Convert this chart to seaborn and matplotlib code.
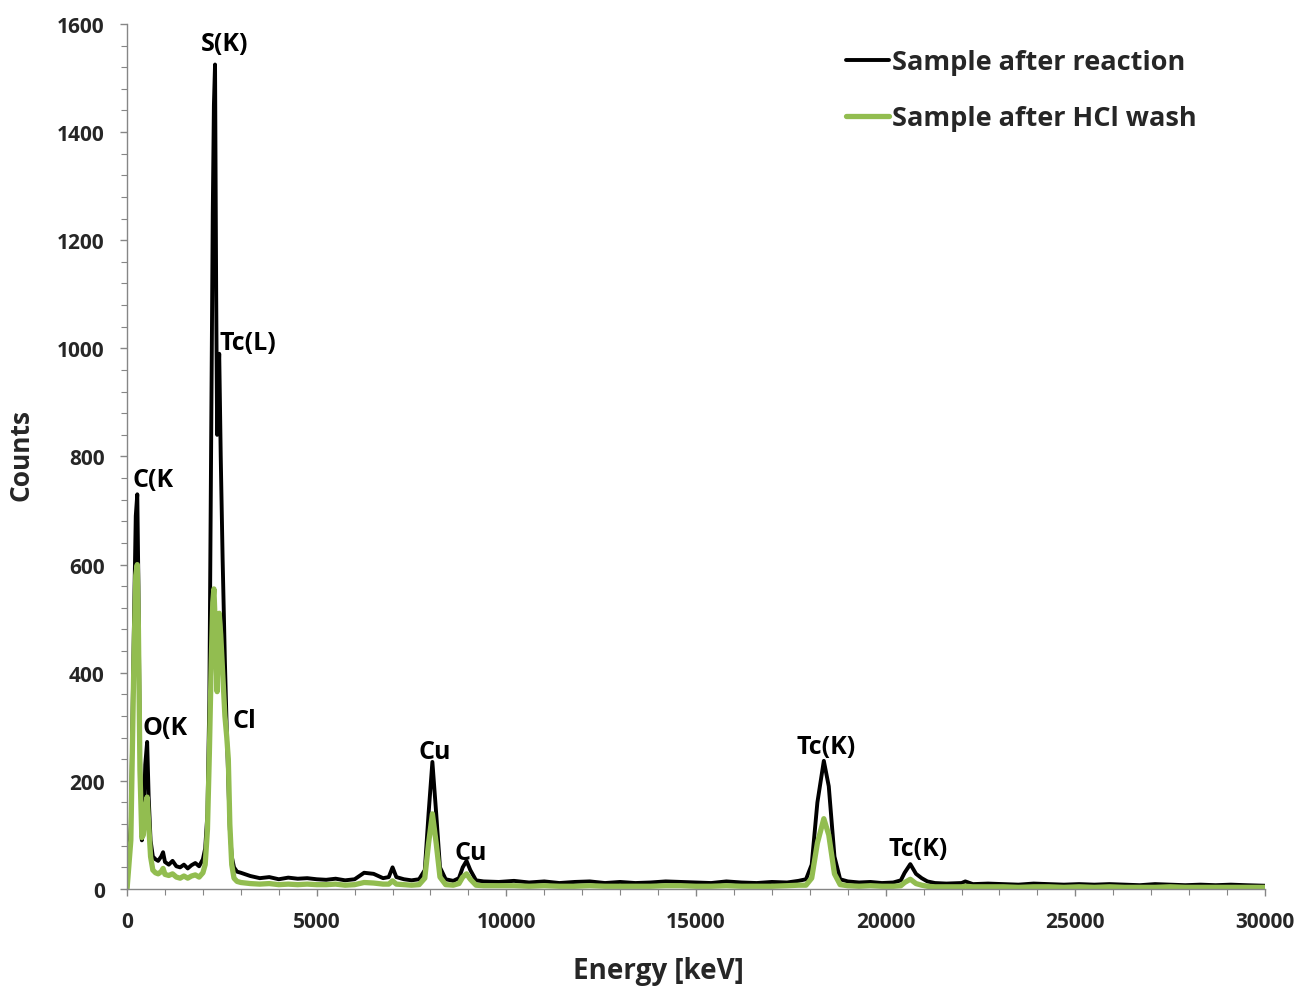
import pandas as pd
import matplotlib.pyplot as plt
import seaborn as sns
from matplotlib.ticker import MultipleLocator

# Energy grid (eV as labelled "keV" on the original chart)
energy = [
    0, 100, 180, 230, 270, 300, 340, 390, 430, 480, 530, 570, 620, 680, 750,
    820, 900, 950, 1000, 1100, 1200, 1300, 1400, 1500, 1600, 1700, 1800, 1900,
    2000, 2060, 2120, 2170, 2220, 2260, 2290, 2320, 2350, 2375, 2400, 2430,
    2470, 2520, 2580, 2630, 2670, 2710, 2760, 2820, 2900, 3000,
    3250, 3500, 3750, 4000, 4250, 4500, 4750, 5000, 5250, 5500, 5750, 6000,
    6250, 6500, 6750, 6900, 7000, 7100, 7300, 7500, 7700,
    7850, 7950, 8050, 8150, 8250, 8400, 8600, 8750, 8850, 8950, 9050, 9200, 9400,
    9800, 10200, 10600, 11000, 11400, 11800, 12200, 12600, 13000, 13400, 13800,
    14200, 14600, 15000, 15400, 15800, 16200, 16600, 17000, 17400, 17700,
    17900, 18050, 18200, 18370, 18500, 18650, 18800, 19000,
    19300, 19600, 19900, 20200, 20400, 20500, 20650, 20800, 20950, 21100, 21300,
    21600, 22000, 22100, 22300, 22700, 23100, 23500, 23900, 24300, 24700, 25100,
    25500, 25900, 26300, 26700, 27100, 27500, 27900, 28300, 28700, 29100, 29500, 30000,
]

after_reaction = [
    0, 120, 480, 690, 730, 560, 250, 90, 110, 230, 272, 170, 90, 60, 55,
    52, 60, 68, 50, 45, 52, 42, 40, 45, 38, 44, 48, 42,
    55, 75, 140, 350, 850, 1250, 1450, 1525, 1100, 840, 930, 990,
    800, 610, 420, 290, 200, 110, 60, 40, 32, 30,
    24, 20, 22, 18, 21, 19, 20, 18, 17, 19, 16, 18,
    30, 28, 20, 22, 40, 22, 18, 16, 18,
    35, 140, 235, 140, 40, 18, 15, 20, 40, 52, 35, 16, 14,
    13, 15, 12, 14, 11, 13, 14, 11, 13, 11, 12,
    14, 13, 12, 11, 14, 12, 11, 13, 12, 15,
    18, 45, 160, 237, 190, 60, 18, 14,
    12, 13, 11, 12, 16, 30, 46, 28, 20, 14, 11,
    10, 11, 14, 9, 10, 9, 8, 10, 9, 8, 9,
    8, 9, 8, 7, 9, 8, 7, 8, 7, 8, 7, 6,
]

after_hcl = [
    0, 90, 420, 580, 600, 480, 220, 95, 100, 150, 170, 120, 60, 35, 30,
    28, 32, 38, 27, 25, 28, 22, 20, 24, 20, 24, 26, 22,
    30, 45, 110, 250, 420, 530, 555, 500, 420, 365, 460, 510,
    470, 400, 320, 280, 240, 120, 45, 20, 14, 12,
    10, 9, 10, 8, 9, 8, 9, 8, 8, 9, 7, 8,
    12, 11, 9, 9, 15, 9, 8, 7, 8,
    20, 85, 139, 85, 22, 8, 7, 10, 22, 28, 18, 7, 6,
    6, 6, 5, 6, 5, 5, 6, 5, 5, 5, 5,
    6, 6, 5, 5, 6, 5, 5, 5, 6, 7,
    7, 20, 85, 130, 100, 28, 8, 6,
    5, 6, 5, 5, 6, 12, 18, 10, 7, 5, 4,
    4, 4, 5, 4, 4, 4, 3, 4, 4, 3, 4,
    3, 4, 3, 3, 3, 4, 3, 3, 3, 3, 3, 3,
]

# peak labels: text, energy, counts
peak_labels = ["S(K)", "Tc(L)", "C(K", "O(K", "Cl", "Cu", "Cu", "Tc(K)", "Tc(K)"]
peak_x = [2560, 2450, 140, 420, 2770, 8120, 9070, 18430, 20850]
peak_y = [1563, 1010, 757, 298, 311, 255, 68, 263, 74]
peak_ha = ["center", "left", "left", "left", "left", "center", "center", "center", "center"]

df = pd.DataFrame({"energy": energy, "reaction": after_reaction, "hcl": after_hcl})

sns.set_theme(style="white")
plt.rcParams['font.family'] = ['Open Sans', 'DejaVu Sans']
plt.rcParams['font.weight'] = 'bold'

fig = plt.figure(figsize=(12.99, 9.87), dpi=100)
ax = fig.add_axes([0.0978, 0.0983, 0.876, 0.8764])

sns.lineplot(data=df, x="energy", y="reaction", color="black", linewidth=2.8,
             label="Sample after reaction", ax=ax)
sns.lineplot(data=df, x="energy", y="hcl", color="#92bd50", linewidth=3.8,
             label="Sample after HCl wash", ax=ax)

for t, x, y, ha in zip(peak_labels, peak_x, peak_y, peak_ha):
    ax.text(x, y, t, ha=ha, va="center", fontsize=18, fontweight="bold", color="black")

ax.set_xlim(0, 30000)
ax.set_ylim(0, 1600)
ax.xaxis.set_major_locator(MultipleLocator(5000))
ax.xaxis.set_minor_locator(MultipleLocator(1000))
ax.yaxis.set_major_locator(MultipleLocator(200))
ax.yaxis.set_minor_locator(MultipleLocator(40))

for side in ["top", "right"]:
    ax.spines[side].set_visible(False)
for side in ["left", "bottom"]:
    ax.spines[side].set_color("#868686")
    ax.spines[side].set_linewidth(1.0)

ax.tick_params(axis="both", which="both", direction="out", color="#868686",
               bottom=True, left=True)
ax.tick_params(axis="both", which="major", length=5, width=1.0, labelsize=15)
ax.tick_params(axis="both", which="minor", length=4, width=0.8)
ax.tick_params(axis="y", which="major", pad=11)
ax.tick_params(axis="x", which="major", pad=11)
for lab in ax.get_xticklabels() + ax.get_yticklabels():
    lab.set_fontweight("bold")

ax.set_xlabel("Energy [keV]", fontsize=20, fontweight="bold")
ax.set_ylabel("Counts", fontsize=19, fontweight="bold")
ax.xaxis.set_label_coords(0.467, -0.077)
ax.yaxis.set_label_coords(-0.081, 0.503)

leg = ax.legend(loc="upper left", bbox_to_anchor=(0.61, 0.999), frameon=False,
                fontsize=19.5, handlelength=1.6, handletextpad=0.1, labelspacing=1.1)
for txt in leg.get_texts():
    txt.set_fontweight("bold")

fig.savefig("out.png", dpi=100)
